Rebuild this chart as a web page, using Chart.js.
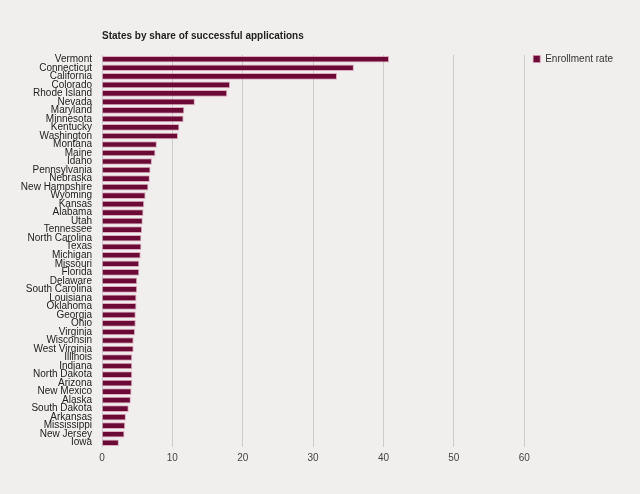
<!DOCTYPE html>
<html>
<head>
<meta charset="utf-8">
<script src="https://cdn.jsdelivr.net/npm/chart.js@4/dist/chart.umd.min.js"></script>
<style>
  html, body { margin: 0; padding: 0; background: #f0efed; }
  #wrap { width: 640px; height: 494px; position: relative; }
</style>
</head>
<body>
<div id="wrap"><canvas id="myChart"></canvas></div>
<script>
// States, sorted as in the picture (top to bottom)
const states = [
    "Vermont", "Connecticut", "California", "Colorado", "Rhode Island",
    "Nevada", "Maryland", "Minnesota", "Kentucky", "Washington",
    "Montana", "Maine", "Idaho", "Pennsylvania", "Nebraska",
    "New Hampshire", "Wyoming", "Kansas", "Alabama", "Utah",
    "Tennessee", "North Carolina", "Texas", "Michigan", "Missouri",
    "Florida", "Delaware", "South Carolina", "Louisiana", "Oklahoma",
    "Georgia", "Ohio", "Virginia", "Wisconsin", "West Virginia",
    "Illinois", "Indiana", "North Dakota", "Arizona", "New Mexico",
    "Alaska", "South Dakota", "Arkansas", "Mississippi", "New Jersey", "Iowa"
];

// Enrollment rate (%)
const enrollmentRate = [
    40.8, 35.8, 33.4, 18.2, 17.8,
    13.2, 11.7, 11.6, 11.0, 10.8,
    7.8, 7.6, 7.1, 6.9, 6.8,
    6.6, 6.2, 6.0, 5.9, 5.8,
    5.7, 5.6, 5.6, 5.5, 5.3,
    5.3, 5.0, 5.0, 4.9, 4.9,
    4.8, 4.8, 4.7, 4.5, 4.5,
    4.3, 4.3, 4.3, 4.3, 4.2,
    4.1, 3.8, 3.4, 3.3, 3.2, 2.4
];

const seriesLabel = "Enrollment rate";
const chartTitle = "States by share of successful applications";

// Axis range
const xMin = 0;
const xMax = 60;
const xStep = 10;

const barColor = '#6c0a36';
const fontFamily = '"Liberation Sans", Arial, Helvetica, sans-serif';

const ctx = document.getElementById('myChart').getContext('2d');
const myChart = new Chart(ctx, {
    type: 'bar',
    data: {
        labels: states,
        datasets: [{
            label: seriesLabel,
            data: enrollmentRate,
            backgroundColor: barColor,
            borderColor: 'rgba(214, 150, 175, 0.75)',
            borderWidth: 1,
            borderSkipped: 'start',
            barPercentage: 0.78,
            categoryPercentage: 1.0
        }]
    },
    options: {
        indexAxis: 'y',
        responsive: true,
        maintainAspectRatio: false,
        animation: false,
        layout: {
            padding: { top: 0, right: 17, bottom: 0, left: 0 }
        },
        scales: {
            x: {
                min: xMin,
                max: xMax,
                ticks: {
                    stepSize: xStep,
                    padding: 5,
                    color: '#444',
                    font: { family: fontFamily, size: 10 }
                },
                grid: {
                    color: '#cdcccb',
                    lineWidth: 1,
                    drawTicks: false
                },
                border: { display: false },
                afterFit: (scale) => { scale.height = 47; }
            },
            y: {
                ticks: {
                    padding: 10,
                    color: '#222',
                    autoSkip: false,
                    font: { family: fontFamily, size: 10 }
                },
                grid: { display: false, drawTicks: false },
                border: { display: false },
                afterFit: (scale) => { scale.width = 102; }
            }
        },
        plugins: {
            title: {
                display: true,
                text: chartTitle,
                align: 'start',
                fullSize: false,
                color: '#222',
                font: { family: fontFamily, size: 10, weight: 'bold' },
                padding: { top: 30, bottom: 13 }
            },
            legend: {
                display: true,
                position: 'right',
                align: 'start',
                fullSize: true,
                // empty legend title only used to push the item down to the plot top
                title: {
                    display: true,
                    text: '',
                    font: { family: fontFamily, size: 10 },
                    padding: { top: 33, bottom: 0 }
                },
                labels: {
                    boxWidth: 7,
                    boxHeight: 7,
                    padding: 9,
                    color: '#333',
                    font: { family: fontFamily, size: 10 }
                }
            },
            tooltip: { enabled: false }
        }
    }
});
</script>
</body>
</html>
